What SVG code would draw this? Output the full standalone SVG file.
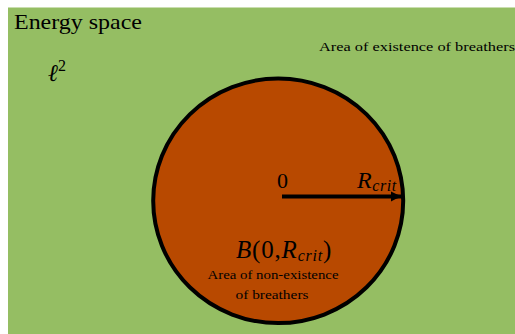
<svg xmlns="http://www.w3.org/2000/svg" width="515" height="334" viewBox="0 0 515 334">
<style>
text{font-family:"Liberation Serif","DejaVu Serif",serif;fill:#000}
.it{font-style:italic}
</style>
<defs>
<marker id="ah" markerWidth="4" markerHeight="4" refX="3" refY="2" orient="auto" markerUnits="strokeWidth">
<path d="M0,0.75 Q1.5,1.6 3,2 Q1.5,2.4 0,3.25 Z" fill="#000"/>
</marker>
</defs>
<rect width="515" height="334" fill="#fff"/>
<g id="energy-space">
<rect x="8" y="7.5" width="507" height="326.5" fill="#95BE63"/>
<text x="14" y="29" font-size="22" textLength="128" lengthAdjust="spacingAndGlyphs">Energy space</text>
<text x="48" y="81" font-size="24" class="it">ℓ<tspan font-size="16" dy="-10" font-style="normal">2</tspan></text>
<text x="319" y="51" font-size="13" textLength="196" lengthAdjust="spacingAndGlyphs">Area of existence of breathers</text>
</g>
<g id="ball">
<ellipse cx="278.2" cy="200.8" rx="125" ry="122.3" fill="#B84900" stroke="#000" stroke-width="4"/>
<text x="277" y="188" font-size="22">0</text>
<text x="357" y="188" font-size="24" class="it" letter-spacing="0.6">R<tspan font-size="16" dy="3">crit</tspan></text>
<text x="236" y="258" font-size="25" class="it" letter-spacing="0.8">B<tspan font-style="normal">(0,</tspan>R<tspan font-size="16" dy="3">crit</tspan><tspan font-style="normal" dy="-3">)</tspan></text>
<text x="273" y="279" font-size="12.5" text-anchor="middle" textLength="131" lengthAdjust="spacingAndGlyphs">Area of non-existence</text>
<text x="272" y="299" font-size="12.5" text-anchor="middle" textLength="73" lengthAdjust="spacingAndGlyphs">of breathers</text>
</g>
<g id="connectors">
<line x1="282" y1="196.5" x2="403" y2="196.5" stroke="#000" stroke-width="4" marker-end="url(#ah)"/>
</g>
</svg>
